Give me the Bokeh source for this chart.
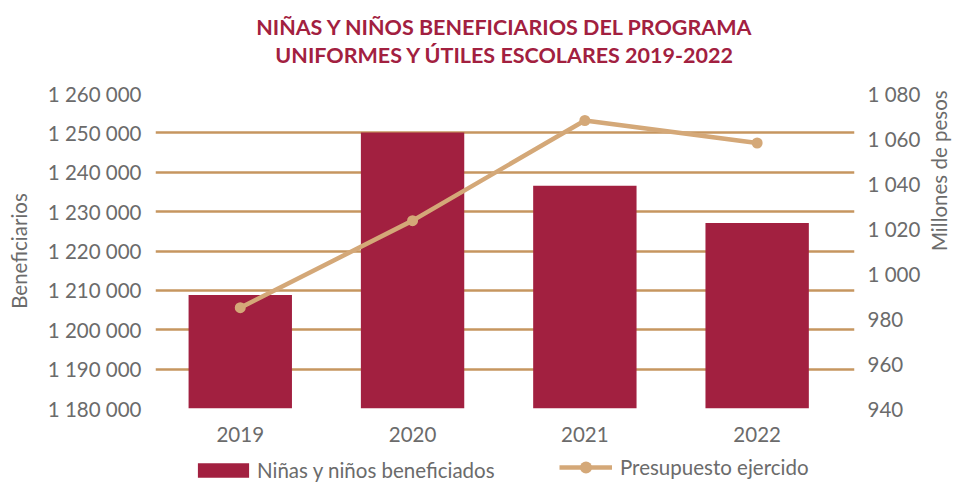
import math
from bokeh.plotting import figure
from bokeh.layouts import column
from bokeh.models import Range1d, LinearAxis, FixedTicker, CustomJSTickFormatter, Legend, LegendItem, Title
from bokeh.embed import file_html
from bokeh.resources import INLINE

# ---- data ----
years = [2019, 2020, 2021, 2022]
year_labels = ["2019", "2020", "2021", "2022"]
beneficiarios = [1208800, 1250100, 1236600, 1227100]
presupuesto = [984.8, 1023.5, 1068.0, 1058.0]
left_ticks = [1180000, 1190000, 1200000, 1210000, 1220000, 1230000, 1240000, 1250000, 1260000]
right_ticks = [940, 960, 980, 1000, 1020, 1040, 1060, 1080]
title_lines = ["NIÑAS Y NIÑOS BENEFICIARIOS DEL PROGRAMA", "UNIFORMES Y ÚTILES ESCOLARES 2019-2022"]
series_names = ["Niñas y niños beneficiados", "Presupuesto ejercido"]
axis_titles = ["Beneficiarios", "Millones de pesos"]

BAR = "#A22040"
GRID = "#C69660"
LINE = "#D4A878"
GREY = "#6B6B6B"
FONT = "Lato"

p = figure(width=968, height=452, output_backend="svg", toolbar_location=None,
           x_range=Range1d(2018.508, 2022.565),
           y_range=Range1d(left_ticks[0], left_ticks[-1]),
           min_border_left=155, min_border_right=114, min_border_top=93, min_border_bottom=44)
p.outline_line_color = None
p.background_fill_color = "white"
p.border_fill_color = "white"

p.extra_y_ranges = {"pres": Range1d(right_ticks[0], right_ticks[-1])}

space_fmt = CustomJSTickFormatter(code="""
    return Math.round(tick).toString().replace(/\\B(?=(\\d{3})+(?!\\d))/g, " ");
""")

xa = p.xaxis[0]
xa.ticker = FixedTicker(ticks=years)
xa.major_label_overrides = {y: l for y, l in zip(years, year_labels)}
ya = p.yaxis[0]
ya.ticker = FixedTicker(ticks=left_ticks)
ya.formatter = space_fmt
ya.axis_label = axis_titles[0]
ra = LinearAxis(y_range_name="pres", ticker=FixedTicker(ticks=right_ticks), formatter=space_fmt,
                axis_label=axis_titles[1])
p.add_layout(ra, "right")

for ax in [xa, ya, ra]:
    ax.axis_line_color = None
    ax.major_tick_line_color = None
    ax.minor_tick_line_color = None
    ax.major_tick_out = 0
    ax.major_tick_in = 0
    ax.minor_tick_out = 0
    ax.major_label_text_font = FONT
    ax.major_label_text_font_size = "20.5px"
    ax.major_label_text_color = GREY
    ax.axis_label_text_font = FONT
    ax.axis_label_text_font_size = "20.5px"
    ax.axis_label_text_color = GREY
    ax.axis_label_text_font_style = "normal"
ya.major_label_standoff = 14
ra.major_label_standoff = 13
xa.major_label_standoff = 18
ya.axis_label_standoff = 14
ra.axis_label_standoff = 16
try:
    ra.axis_label_orientation = math.pi / 2
except Exception:
    pass

p.xgrid.grid_line_color = None
p.ygrid.ticker = FixedTicker(ticks=left_ticks)
p.ygrid.grid_line_color = GRID
p.ygrid.grid_line_width = 2.5

bars = p.vbar(x=years, top=beneficiarios, bottom=left_ticks[0], width=0.6,
              fill_color=BAR, line_color=None)
ln = p.line(x=years, y=presupuesto, y_range_name="pres", line_color=LINE, line_width=4.5)
sc = p.scatter(x=years, y=presupuesto, y_range_name="pres", size=11,
               fill_color=LINE, line_color=None)

# titles: a blank spacer next to the frame, then line 2, then line 1
tstyle = dict(align="center", text_font=FONT, text_font_style="bold", text_color=BAR)
p.add_layout(Title(text=" ", standoff=0, text_font_size="20px", **tstyle), "above")
p.add_layout(Title(text=title_lines[1], standoff=0, text_font_size="21.5px", **tstyle), "above")
p.add_layout(Title(text=title_lines[0], standoff=0, text_font_size="21.5px", **tstyle), "above")

# legend strip below the chart (proxy renderers of the same series, kept outside its view)
lf = figure(width=968, height=30, output_backend="svg", toolbar_location=None,
            x_axis_type=None, y_axis_type=None, min_border=0,
            x_range=Range1d(2030, 2031), y_range=Range1d(1300000, 1310000))
lf.outline_line_color = None
lf.border_fill_color = "white"
lf.extra_y_ranges = {"pres": Range1d(2000, 2010)}
lb = lf.vbar(x=years, top=beneficiarios, bottom=left_ticks[0], width=0.6,
             fill_color=BAR, line_color=None)
ll = lf.line(x=years, y=presupuesto, y_range_name="pres", line_color=LINE, line_width=4.5)
ls = lf.scatter(x=years, y=presupuesto, y_range_name="pres", size=12,
                fill_color=LINE, line_color=None)

lstyle = dict(orientation="horizontal", padding=0, margin=0, border_line_color=None,
              background_fill_alpha=0, label_text_font=FONT, label_text_font_size="20.5px",
              label_text_color=GREY, label_height=18)
leg1 = Legend(items=[LegendItem(label=series_names[0], renderers=[lb])],
              location=(36, 0), glyph_width=64, glyph_height=18, label_standoff=2, **lstyle)
leg2 = Legend(items=[LegendItem(label=series_names[1], renderers=[ll, ls])],
              location=(404, 0), glyph_width=53, glyph_height=30, label_standoff=8, **lstyle)
lf.add_layout(leg1, "center")
lf.add_layout(leg2, "center")

layout = column(p, lf, spacing=0)
open("out.html", "w").write(file_html(layout, INLINE))
